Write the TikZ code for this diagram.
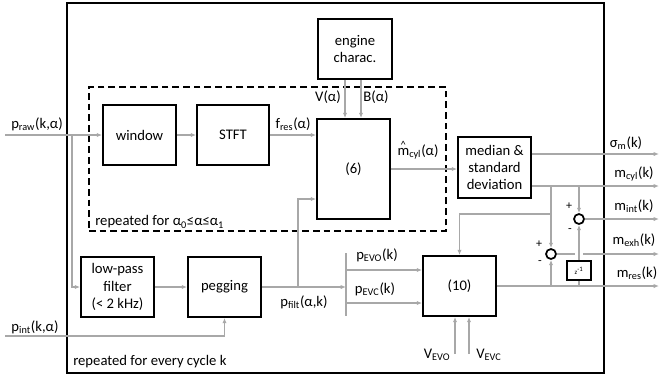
\documentclass[tikz,border=0pt]{standalone}
\usepackage{fontspec}
\setmainfont{Carlito}
\usetikzlibrary{arrows.meta,calc}
\definecolor{lgray}{RGB}{168,168,168}
\tikzset{
  box/.style={draw=black,line width=1.3pt,inner sep=0pt,align=center,font=\fontsize{11}{13}\selectfont},
  wh/.style 2 args={minimum width=#1*0.75pt,minimum height=#2*0.75pt},
  arr/.style={draw=lgray,line width=1.1pt,-{Latex[length=4pt,width=3.2pt]}},
  ln/.style={draw=lgray,line width=1.1pt},
  lbl/.style={inner sep=0pt,font=\fontsize{11}{13}\selectfont},
  sgn/.style={inner sep=0pt,font=\fontsize{9}{10}\selectfont},
  sumc/.style={circle,draw=black,line width=1.3pt,minimum size=7.5pt,inner sep=0pt},
}
\newcommand{\sub}[1]{\textsubscript{#1}}
\begin{document}
\begin{tikzpicture}[x=0.75pt,y=-0.75pt]
\useasboundingbox (0,0) rectangle (659,380);
% outer and dashed frames
\node[draw=black,line width=1.3pt,inner sep=0pt,wh={537}{370}] (outer) at (335.5,188) {};
\node[draw=black,line width=1.4pt,dash pattern=on 5pt off 3pt,inner sep=0pt,wh={357}{144}] (rep) at (267.5,159) {};
% boxes
\node[box,wh={74}{60}] (engine) at (355,49) {engine\\charac.};
\node[box,wh={73}{60}] (window) at (139.5,135) {window};
\node[box,wh={72}{60}] (stft) at (233,135) {STFT};
\node[box,wh={73}{100}] (six) at (353.5,169) {(6)};
\node[box,wh={73}{61}] (median) at (494.5,167.5) {median \&\\standard\\deviation};
\node[box,wh={73}{60}] (lpf) at (117.5,287) {low-pass\\filter\\(< 2 kHz)};
\node[box,wh={73}{60}] (peg) at (224.5,287) {pegging};
\node[box,wh={73}{60}] (ten) at (459.5,286) {(10)};
\node[box,line width=1.2pt,wh={24}{19},font=\fontsize{5}{6}\selectfont] (zinv) at (579,270.5) {z\textsuperscript{-1}};
\node[sumc] (sumA) at (579,219) {};
\node[sumc] (sumB) at (551,254) {};
% coordinates
\coordinate (praw) at (5,135);
\coordinate (brA) at (72,135);
\coordinate (pint) at (5,336);
\coordinate (vx) at (345,0);
\coordinate (bx) at (361,0);
\coordinate (pf) at (298,287);
\coordinate (pfy) at (0,199);
\coordinate (barT) at (346,253);
\coordinate (barB) at (346,316);
\coordinate (evo) at (0,270);
\coordinate (evc) at (0,303);
\coordinate (vevo) at (455,354);
\coordinate (vevc) at (469,354);
\coordinate (outS) at (659,154);
\coordinate (outC) at (659,186);
\coordinate (outI) at (659,219);
\coordinate (outE) at (659,254);
\coordinate (outR) at (659,286);
\coordinate (tA) at (551,186);
\coordinate (tB) at (579,186);
\coordinate (tC) at (551,214);
\coordinate (rA) at (551,286);
\coordinate (rB) at (579,286);
\coordinate (gapL) at (575,254);
\coordinate (gapR) at (583,254);
% connectors
\draw[arr] (praw) -- (window.west);
\draw[arr] (brA) |- (lpf.west);
\draw[arr] (window.east) -- (stft.west);
\draw[arr] (stft.east) -- (stft.east -| six.west);
\draw[arr] (engine.south -| vx) -- (six.north -| vx);
\draw[arr] (engine.south -| bx) -- (six.north -| bx);
\draw[arr] (six.east) -- (six.east -| median.west);
\draw[arr] (median.east |- outS) -- (outS);
\draw[arr] (median.east |- outC) -- (outC);
\draw[arr] (lpf.east) -- (peg.west);
\draw[arr] (pint) -| (peg.south);
\draw[arr] (peg.east) -- (peg.east -| barT);
\draw[arr] (pf) |- (six.west |- pfy);
\draw[draw=lgray,line width=2pt] (barT) -- (barB);
\draw[arr] (barT |- evo) -- (ten.west |- evo);
\draw[arr] (barT |- evc) -- (ten.west |- evc);
\draw[arr] (vevo) -- (ten.south -| vevo);
\draw[arr] (vevc) -- (ten.south -| vevc);
\draw[arr] (ten.east) -- (outR);
\draw[arr] (tA) -- (sumB.north);
\draw[arr] (tC) -| (ten.north);
\draw[arr] (tB) -- (sumA.north);
\draw[arr] (rA) -- (sumB.south);
\draw[ln] (rB) -- (zinv.south);
\draw[arr] (zinv.north) -- (sumA.south);
\draw[arr] (sumA.east) -- (outI);
\draw[ln] (sumB.east) -- (gapL);
\draw[arr] (gapR) -- (outE);
% labels
\node[lbl] (lpraw) at (37,124) {p\sub{raw}(k,α)};
\node[lbl] (lfres) at (293,124) {f\sub{res}(α)};
\node[lbl] (lV) at (328,97) {V(α)};
\node[lbl] (lB) at (376,97) {B(α)};
\node[lbl] (lmhat) at (418,152) {\hbox{\ooalign{m\cr\hidewidth\raisebox{1.05ex}{\fontsize{8}{8}\selectfont\^{}}\hidewidth\cr}}\sub{cyl}(α)};
\node[lbl] (lsig) at (626,143) {σ\sub{m}(k)};
\node[lbl] (lcyl) at (634,174) {m\sub{cyl}(k)};
\node[lbl] (lint) at (634,206) {m\sub{int}(k)};
\node[lbl] (lexh) at (634,240) {m\sub{exh}(k)};
\node[lbl] (lres) at (637,273) {m\sub{res}(k)};
\node[lbl] (lpfilt) at (304,302) {p\sub{filt}(α,k)};
\node[lbl] (levo) at (377,255) {p\sub{EVO}(k)};
\node[lbl] (levc) at (375,289) {p\sub{EVC}(k)};
\node[lbl] (lpint) at (35,327) {p\sub{int}(k,α)};
\node[lbl] (lvevo) at (437,355) {V\sub{EVO}};
\node[lbl] (lvevc) at (489,355) {V\sub{EVC}};
\node[lbl,anchor=west] (lrepA) at (95,222) {repeated for α\sub{0}≤α≤α\sub{1}};
\node[lbl,anchor=west] (lrepK) at (73,362) {repeated for every cycle k};
\node[sgn] (pA) at (569,206) {+};
\node[sgn] (mA) at (570,231) {-};
\node[sgn] (pB) at (539,244) {+};
\node[sgn] (mB) at (540,263) {-};
\end{tikzpicture}
\end{document}
